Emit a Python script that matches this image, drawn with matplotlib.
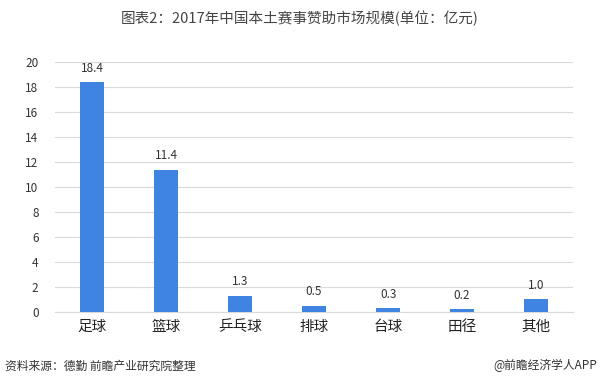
import matplotlib
matplotlib.use("Agg")
import matplotlib.pyplot as plt

plt.rcParams['font.family'] = ['Noto Sans CJK SC', 'DejaVu Sans']

# ---------------- DATA ----------------
categories = ["足球", "篮球", "乒乓球", "排球", "台球", "田径", "其他"]
values = [18.4, 11.4, 1.3, 0.5, 0.3, 0.2, 1.0]
y_ticks = [0, 2, 4, 6, 8, 10, 12, 14, 16, 18, 20]
# --------------------------------------

fig = plt.figure(figsize=(6.0, 3.86), dpi=100)
ax = fig.add_axes([0.092, 0.192, 0.863, 0.647])

x = range(len(categories))
ax.bar(x, values, width=0.32, color="#3F84E0", zorder=3)

for xi, v in zip(x, values):
    ax.text(xi, v + 0.6, f"{v:.1f}", ha="center", va="bottom",
            fontsize=8.5, color="#333333")

ax.set_xlim(-0.5, len(categories) - 0.5)
ax.set_ylim(0, 20)
ax.set_yticks(y_ticks)
ax.set_xticks(list(x))
ax.set_xticklabels(categories, fontsize=10.5, color="#222222")
ax.tick_params(axis="y", labelsize=8.5, colors="#333333", length=0, pad=12)
ax.tick_params(axis="x", length=0, pad=6)

ax.grid(axis="y", color="#D9D9D9", linewidth=0.8, zorder=0)
for side in ["top", "right", "left"]:
    ax.spines[side].set_visible(False)
ax.spines["bottom"].set_color("#D9D9D9")

fig.text(0.5, 0.953, "图表2：2017年中国本土赛事赞助市场规模(单位：亿元)",
         ha="center", va="center", fontsize=10.5, color="#444444")
fig.text(0.008, 0.052, "资料来源：德勤 前瞻产业研究院整理",
         ha="left", va="center", fontsize=8.5, color="#333333")
fig.text(0.995, 0.052, "@前瞻经济学人APP",
         ha="right", va="center", fontsize=8.5, color="#333333")

fig.savefig("out.png", dpi=100)
plt.close(fig)
